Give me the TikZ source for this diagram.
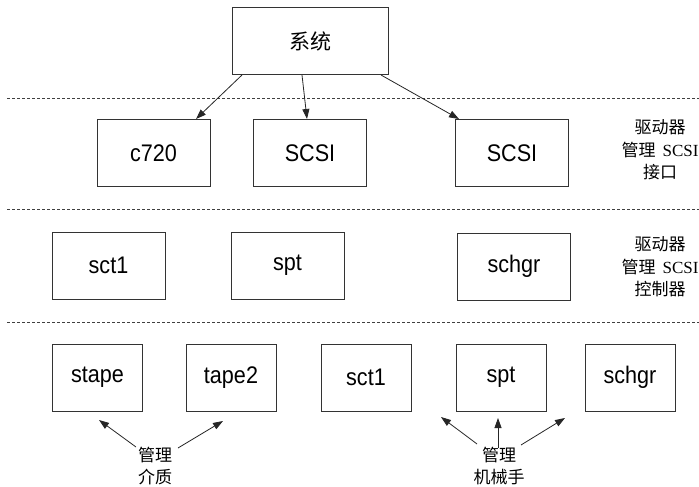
\documentclass[tikz,border=0pt]{standalone}
\usepackage{fontspec}
\setmainfont{Liberation Serif}
\newfontfamily\cjk{Noto Sans CJK SC}
\newfontfamily\boxfont[FakeStretch=0.9]{Liberation Sans}
\usetikzlibrary{arrows.meta}
\begin{document}
\begin{tikzpicture}[x=1pt,y=-1pt,
  box/.style={draw=black!80, line width=1pt, minimum width=113pt, minimum height=67pt, inner sep=0pt, font=\boxfont\fontsize{24}{28}\selectfont},
  sbox/.style={box, minimum width=90pt},
  cjkbox/.style={box, minimum width=156pt, font=\cjk\fontsize{21}{26}\selectfont},
  lbl/.style={align=center, inner sep=0pt, font=\cjk\fontsize{17}{22.5}\selectfont},
  arr/.style={-{Triangle[length=10pt,width=7pt]}, line width=0.8pt, draw=black!85},
  divline/.style={draw=black!75, line width=0.8pt, dash pattern=on 3pt off 2pt}]
\useasboundingbox (0,0) rectangle (699,487);
% separators
\draw[divline] (7,98) -- (699,98);
\draw[divline] (7,209) -- (699,209);
\draw[divline] (7,322) -- (699,322);
% top
\node[cjkbox] (sys) at (310,41) {系统};
% layer 1
\node[box] (c720) at (153.5,153) {c720};
\node[box] (scsia) at (310,153) {SCSI};
\node[box] (scsib) at (512,153) {SCSI};
% layer 2
\node[box] (sctA) at (108.5,265.5) {sct1};
\node[box] (sptA) at (287.5,265.5) {spt};
\node[box] (schgrA) at (514,266.5) {schgr};
% layer 3
\node[sbox] (stape) at (97.5,377.5) {stape};
\node[sbox] (tape) at (231,377.5) {tape2};
\node[sbox] (sctB) at (366,377.5) {sct1};
\node[sbox] (sptB) at (501,377.5) {spt};
\node[sbox] (schgrB) at (630,377.5) {schgr};
% right labels
\node[lbl] (lab1) at (660,150) {驱动器\\管理\hspace{7pt}{\rmfamily SCSI}\\接口};
\node[lbl] (lab2) at (660,267) {驱动器\\管理\hspace{7pt}{\rmfamily SCSI}\\控制器};
% bottom labels
\node[lbl] (media) at (155,466) {管理\\介质};
\node[lbl] (robot) at (499,466) {管理\\机械手};
% top arrows
\draw[arr] ([xshift=-68pt]sys.south) -- ([xshift=42.5pt]c720.north);
\draw[arr] ([xshift=-8pt]sys.south) -- ([xshift=-3pt]scsia.north);
\draw[arr] ([xshift=71pt]sys.south) -- ([xshift=-53pt]scsib.north);
% bottom arrows
\coordinate (m1) at (136,447);
\coordinate (m2) at (178,448);
\coordinate (t1) at (99,420);
\coordinate (t2) at (223,421);
\draw[arr] (m1) -- (t1);
\draw[arr] (m2) -- (t2);
\coordinate (r1) at (477,444);
\coordinate (r2) at (498,448);
\coordinate (r3) at (521,445);
\coordinate (u1) at (441,417);
\coordinate (u2) at (498,418);
\coordinate (u3) at (565,418);
\draw[arr] (r1) -- (u1);
\draw[arr] (r2) -- (u2);
\draw[arr] (r3) -- (u3);
\end{tikzpicture}
\end{document}
